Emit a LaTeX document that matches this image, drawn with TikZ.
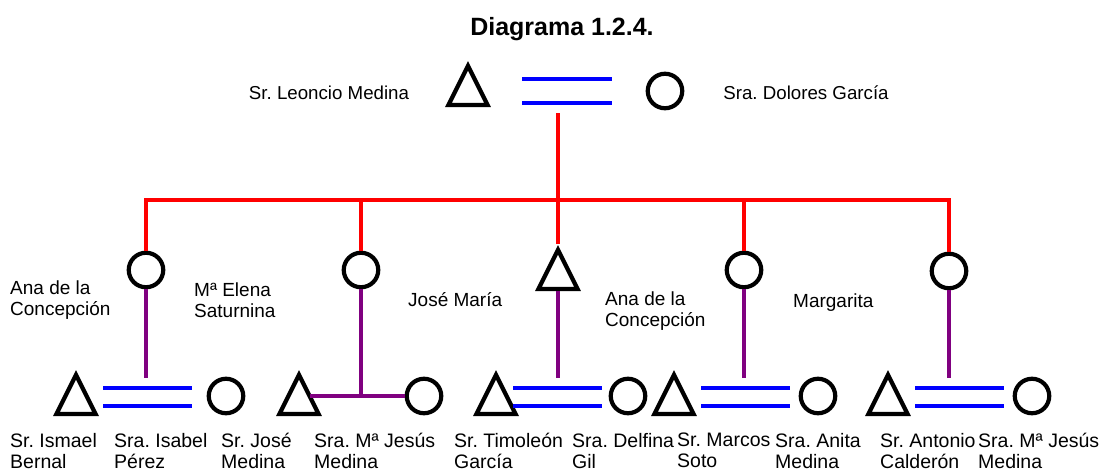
\documentclass[tikz,border=0pt]{standalone}
\usepackage{fontspec}
\setmainfont{Liberation Sans}
\usetikzlibrary{shapes.geometric}
\definecolor{kinpurple}{RGB}{128,0,128}
\frenchspacing

\begin{document}
\begin{tikzpicture}[x=1pt, y=-1pt,
    man/.style={isosceles triangle, isosceles triangle stretches, shape border rotate=90,
      draw, line width=4.2pt, minimum width=39pt, minimum height=39pt, inner sep=0pt, anchor=south},
    woman/.style={circle, draw, line width=4.2pt, minimum size=34.5pt, inner sep=0pt},
    wed/.style={minimum width=89pt, minimum height=38pt, inner sep=0pt,
      path picture={
        \draw[blue, line width=4.5pt] ([yshift=-10pt]path picture bounding box.north west) -- ([yshift=-10pt]path picture bounding box.north east);
        \draw[blue, line width=4.5pt] ([yshift=10pt]path picture bounding box.south west) -- ([yshift=10pt]path picture bounding box.south east);
      }},
    desc/.style={red, line width=4.5pt},
    kin/.style={kinpurple, line width=4pt},
    parentlabel/.style={font=\fontsize{18.7}{21}\selectfont, anchor=base, inner sep=0pt},
    kidlabel/.style={font=\fontsize{19}{21}\selectfont, align=left, anchor=north west, inner sep=0pt},
    spouselabel/.style={font=\fontsize{19.5}{21}\selectfont, align=left, anchor=north west, inner sep=0pt}
  ]
        \useasboundingbox (0,0) rectangle (1100,472);
        \node[font=\bfseries\fontsize{25}{30}\selectfont, anchor=base] (title) at (562,35) {Diagrama 1.2.4.};

        % parents
        \node[man] (leoncio) at (468,107) {};
        \node[woman] (dolores) at (665,91) {};
        \node[wed, minimum width=90pt, minimum height=44pt] (w0) at (567,91) {};
        \node[parentlabel] (leoncioname) at (329,99.5) {Sr. Leoncio Medina};
        \node[parentlabel] (doloresname) at (806,99.5) {Sra. Dolores García};

        % children
        \node[woman] (k1) at (146,270) {};
        \node[woman] (k2) at (361,270) {};
        \node[man] (k3) at (558,291) {};
        \node[woman] (k4) at (744,270) {};
        \node[woman] (k5) at (949,271) {};
        \node[kidlabel] (k1name) at (10,281) {Ana de la\\Concepción};
        \node[kidlabel] (k2name) at (194,283) {Mª Elena\\Saturnina};
        \node[kidlabel] (k3name) at (408,292) {José María};
        \node[kidlabel] (k4name) at (605,292) {Ana de la\\Concepción};
        \node[kidlabel] (k5name) at (793,294) {Margarita};

        \coordinate (bar) at (558,200);
        \draw[desc] (bar |- w0.south) -- (bar);
        \draw[desc] (k1) |- (bar) -| (k5);
        \foreach \k in {k2,k3,k4}
            \draw[desc] (\k) -- (\k |- bar);

        % marriages of the children
        \node[man] (b1m) at (76,416) {};
        \node[wed] (w1) at (147.5,397) {};
        \node[woman] (b1f) at (226,396) {};
        \node[man] (b2m) at (299,416) {};
        \node[woman] (b2f) at (424,396) {};
        \node[man] (b3m) at (496,416) {};
        \node[wed] (w3) at (557.5,397) {};
        \node[woman] (b3f) at (628,396) {};
        \node[man] (b4m) at (674,416) {};
        \node[wed] (w4) at (745.5,397) {};
        \node[woman] (b4f) at (818,396) {};
        \node[man] (b5m) at (888,416) {};
        \node[wed] (w5) at (959.5,397) {};
        \node[woman] (b5f) at (1032,396) {};

        \draw[kin] (k1) -- (k1 |- w1.north);
        \draw[kin] (b2f) -- (b2f -| b2m.right side);
        \draw[kin] (k2) -- (k2 |- b2f);
        \draw[kin] (k3) -- (k3 |- w3.north);
        \draw[kin] (k4) -- (k4 |- w4.north);
        \draw[kin] (k5) -- (k5 |- w5.north);

        \node[spouselabel] (b1mname) at (10,433) {Sr. Ismael\\Bernal};
        \node[spouselabel] (b1fname) at (114,433) {Sra. Isabel\\Pérez};
        \node[spouselabel] (b2mname) at (221,433) {Sr. José\\Medina};
        \node[spouselabel] (b2fname) at (314,433) {Sra. Mª Jesús\\Medina};
        \node[spouselabel] (b3mname) at (454,433) {Sr. Timoleón\\García};
        \node[spouselabel] (b3fname) at (572,433) {Sra. Delfina\\Gil};
        \node[spouselabel] (b4mname) at (677,433) {Sr. Marcos\\Soto};
        \node[spouselabel] (b4fname) at (775,433) {Sra. Anita\\Medina};
        \node[spouselabel] (b5mname) at (880,433) {Sr. Antonio\\Calderón};
        \node[spouselabel] (b5fname) at (978,433) {Sra. Mª Jesús\\Medina};
\end{tikzpicture}
\end{document}
